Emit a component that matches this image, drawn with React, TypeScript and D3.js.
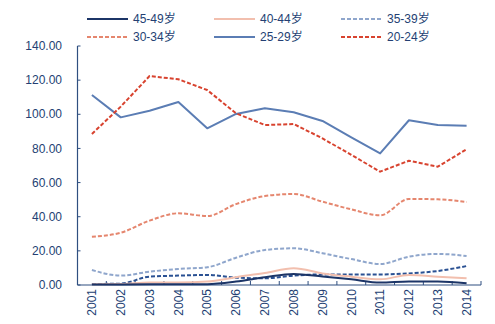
import React from "react";
import * as d3 from "d3";

const years = ["2001","2002","2003","2004","2005","2006","2007","2008","2009","2010","2011","2012","2013","2014"];
const s45_49 = [0.3,0.3,0.4,0.4,0.5,2.0,4.5,6.5,5.0,3.3,1.4,2.0,2.0,1.0];
const s40_44 = [0.5,0.6,1.5,1.5,2.0,4.6,7.0,9.8,6.8,4.9,3.3,5.9,4.9,3.9];
const s35_39 = [8.8,5.5,7.8,9.4,10.4,16.0,20.5,21.5,18.6,15.2,12.3,16.6,18.2,17.0];
const s30_34 = [28.3,30.6,37.7,42.0,40.4,47.4,52.1,53.3,48.8,44.3,40.8,50.4,50.2,48.6];
const s25_29 = [111.3,98.2,102.1,107.2,91.8,100.2,103.5,101.2,96.1,86.5,77.1,96.5,93.7,93.3];
const s20_24 = [88.5,104.5,122.4,120.5,114.2,100.6,93.7,94.3,85.9,76.2,66.4,72.8,69.3,79.5];
const sOther = [0.6,0.8,4.9,5.5,5.9,4.3,3.9,5.5,6.2,6.2,6.2,6.8,8.2,11.1];
const yTicks = [0,20,40,60,80,100,120,140];

const FONT = "'Liberation Sans', Arial, 'Noto Sans CJK SC', sans-serif";
const TXT = "#243F73";
const AXIS = "#2F4F80";

type S = { name: string; data: number[]; color: string; dash?: string; smooth: boolean; legend: boolean };
const series: S[] = [
  { name: "其他", data: sOther, color: "#2A5193", dash: "4 2", smooth: true, legend: false },
  { name: "35-39岁", data: s35_39, color: "#8FA6CC", dash: "4 2", smooth: true, legend: true },
  { name: "30-34岁", data: s30_34, color: "#E5866E", dash: "4 2", smooth: true, legend: true },
  { name: "40-44岁", data: s40_44, color: "#F2BFAE", smooth: true, legend: true },
  { name: "45-49岁", data: s45_49, color: "#1C3567", smooth: true, legend: true },
  { name: "25-29岁", data: s25_29, color: "#5B7DB4", smooth: false, legend: true },
  { name: "20-24岁", data: s20_24, color: "#D8432F", dash: "4 2", smooth: false, legend: true },
];
const legendOrder = ["45-49岁","40-44岁","35-39岁","30-34岁","25-29岁","20-24岁"];

export default function App() {
  const W = 495, H = 324;
  const x0 = 77.5, x1 = 481, yTop = 46, yBot = 285;
  const x = d3.scaleBand<string>().domain(years).range([x0, x1]);
  const y = d3.scaleLinear().domain([0, 140]).range([yBot, yTop]);
  const cx = (i: number) => (x(years[i]) as number) + x.bandwidth() / 2;
  const lineSmooth = d3.line<number>().x((_, i) => cx(i)).y((v) => y(v)).curve(d3.curveMonotoneX);
  const lineLin = d3.line<number>().x((_, i) => cx(i)).y((v) => y(v));
  const bounds = [x0, ...years.map((yr) => (x(yr) as number) + x.bandwidth())];

  return (
    <svg width={W} height={H} style={{ position: "absolute", left: 0, top: 0, background: "#fff" }} fontFamily={FONT}>
      {/* legend */}
      {legendOrder.map((nm, k) => {
        const s = series.find((q) => q.name === nm)!;
        const col = k % 3, row = Math.floor(k / 3);
        const lx = 87 + col * 127, ly = 19 + row * 18;
        return (
          <g key={nm}>
            <line x1={lx} x2={lx + 41} y1={ly} y2={ly} stroke={s.color} strokeWidth={2} strokeDasharray={s.dash} />
            <text x={lx + 46} y={ly} dy="0.35em" fontSize={12} fill={TXT}>{nm}</text>
          </g>
        );
      })}
      {/* y axis */}
      <line x1={x0} x2={x0} y1={yTop} y2={yBot} stroke={AXIS} strokeWidth={1.2} />
      {yTicks.map((t) => (
        <g key={t}>
          <line x1={x0} x2={x0 + 3} y1={y(t)} y2={y(t)} stroke={AXIS} strokeWidth={1} />
          <text x={62} y={y(t)} dy="0.35em" textAnchor="end" fontSize={12} fill={TXT}>{t.toFixed(2)}</text>
        </g>
      ))}
      {/* x axis */}
      <line x1={x0} x2={x1} y1={yBot} y2={yBot} stroke={AXIS} strokeWidth={1.2} />
      {bounds.map((b, i) => (
        <line key={i} x1={b} x2={b} y1={yBot} y2={yBot - 4} stroke={AXIS} strokeWidth={1} />
      ))}
      {years.map((yr, i) => (
        <text key={yr} transform={`translate(${cx(i)},${289}) rotate(-90)`} dy="0.35em" textAnchor="end" fontSize={12} fill={TXT}>{yr}</text>
      ))}
      {/* lines */}
      {series.map((s) => (
        <path key={s.name} d={(s.smooth ? lineSmooth : lineLin)(s.data) || ""} fill="none" stroke={s.color}
          strokeWidth={2} strokeDasharray={s.dash} strokeLinejoin="round" />
      ))}
    </svg>
  );
}
